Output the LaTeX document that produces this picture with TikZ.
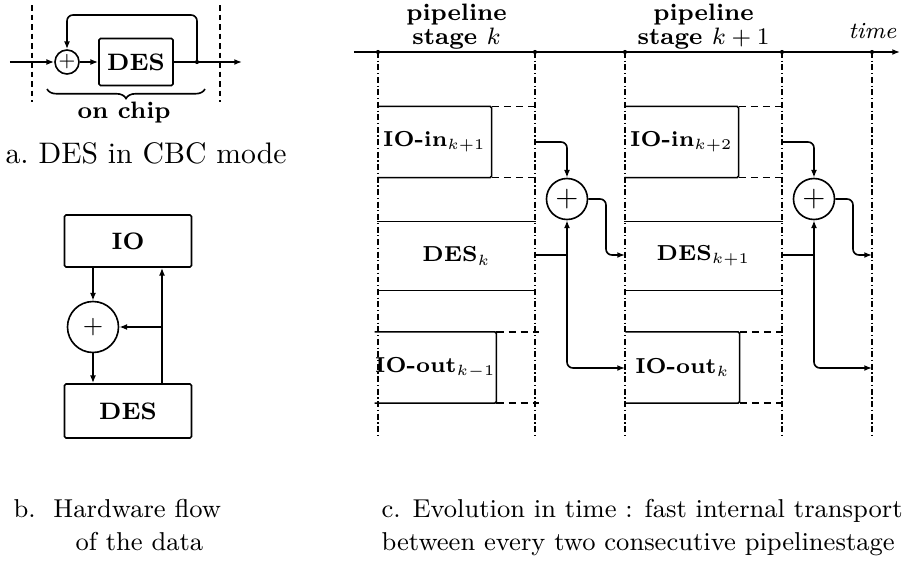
\documentclass[tikz,border=0pt]{standalone}
\usepackage{amsmath}
\usepackage{tikz}
\usetikzlibrary{arrows.meta,decorations.pathreplacing}
\newcommand{\px}{0.3367pt}
\newcommand{\stagesub}[1]{$_{\scriptscriptstyle #1}$}

\begin{document}
\begin{tikzpicture}[
  x=\px, y=-\px,
  wire/.style={line width=0.55pt},
  flow/.style={wire, rounded corners=2pt, -{Latex[length=2.6pt, width=2pt]}},
  unit box/.style={inner sep=0pt, font=\fontsize{8}{9.6}\selectfont\bfseries},
  cbc box/.style={unit box, draw, wire, rounded corners=0.5pt},
  io box/.style={unit box, minimum width={113*\px}, minimum height={70*\px},
                 font=\fontsize{7.3}{9}\selectfont\bfseries},
  des box/.style={io box, minimum width={157*\px}, minimum height={68*\px}},
  xor/.style={circle, draw, wire, inner sep=0pt},
  box edge/.style={wire, rounded corners=0.5pt},
  box spill/.style={wire, dash pattern=on 2.5pt off 1.6pt},
  stage edge/.style={line width=0.35pt, dash pattern=on 2pt off 0.9pt on 0.4pt off 0.9pt},
  chip edge/.style={line width=0.4pt, dash pattern=on 2pt off 1.2pt},
  time axis/.style={line width=0.65pt, -{Latex[length=2.6pt, width=2pt]}},
  header/.style={align=center, inner sep=0pt, font=\fontsize{8}{7}\selectfont\bfseries},
  caption/.style={inner sep=0pt, anchor=base west, font=\fontsize{8.7}{11}\selectfont},
]
  \useasboundingbox (0,0) rectangle (905,562);

  % #1 name, #2 left edge, #3 IO-in text, #4 DES text, #5 IO-out text
  \newcommand{\pipestage}[5]{%
    \begin{scope}[shift={(#2,0)}]
      \draw[stage edge] (0,52) -- (0,435) (157,52) -- (157,435);
      \node[io box] (#1-in) at (56.5,142) {#3};
      \node[des box] (#1-des) at (78.5,256) {#4};
      \node[io box] (#1-out) at (57.5,367.5) {#5};
      \draw[box edge] (#1-in.north west) -- (#1-in.north east)
        -- (#1-in.south east) -- (#1-in.south west);
      \draw[box edge] (#1-out.north west) -- (#1-out.north east)
        -- (#1-out.south east) -- (#1-out.south west);
      \draw[box edge] (#1-des.north west) -- (#1-des.north east)
        (#1-des.south west) -- (#1-des.south east);
      \draw[box spill] (#1-in.north east) -- ++(44,0) (#1-in.south east) -- ++(44,0);
      \draw[box spill] (#1-out.north east) -- ++(43,0) (#1-out.south east) -- ++(43,0);

      % Transport to the next stage.
      \coordinate (#1-inport) at (157,142);
      \coordinate (#1-desport) at (157,255);
      \node[xor, minimum size={41*\px}, font=\fontsize{10}{10}\selectfont] (#1-xor) at (189,199) {+};
      \coordinate (#1-split) at (189,255);
      \coordinate (#1-bend) at (228,255);
      \coordinate (#1-nextdes) at (247,255);
      \coordinate (#1-nextout) at (247,368);
      \draw[flow] (#1-inport) -| (#1-xor.north);
      \draw[wire] (#1-desport) -- (#1-split);
      \draw[flow] (#1-split) -- (#1-xor.south);
      \draw[flow] (#1-split) |- (#1-nextout);
      \draw[flow] (#1-xor.east) -| (#1-bend) -- (#1-nextdes);
    \end{scope}%
  }

  % a. DES in CBC mode
  \draw[chip edge] (32,5) -- (32,102) (220,5) -- (220,102);
  \coordinate (a-in) at (10,62);
  \node[xor, minimum size={24*\px}, font=\fontsize{6.6}{7}\selectfont] (a-xor) at (67,62) {+};
  \node[cbc box, minimum width={74*\px}, minimum height={47*\px}] (a-des) at (136,62) {DES};
  \coordinate (a-tap) at (197,62);
  \coordinate (a-top) at (197,15);
  \coordinate (a-out) at (242,62);
  \draw[flow] (a-in) -- (a-xor);
  \draw[flow] (a-xor) -- (a-des);
  \draw[flow] (a-des) -- (a-out);
  \draw[flow] (a-tap) -- (a-top) -| (a-xor.north);
  \fill (a-tap) circle[radius=0.7pt];
  \draw[wire, decorate, decoration={brace, mirror, amplitude=3.2pt}] (47,89) -- (205,89);
  \node[unit box, anchor=base] (a-chip) at (124,118) {on chip};
  \node[inner sep=0pt, anchor=base west, font=\fontsize{10}{12}\selectfont] (cap-a) at (5,163) {a.\ DES in CBC mode};

  % b. Hardware flow
  \node[cbc box, minimum width={127*\px}, minimum height={52*\px}] (b-io) at (128,241) {IO};
  \node[xor, minimum size={51*\px}, font=\fontsize{8.6}{9}\selectfont] (b-xor) at (93,327) {+};
  \node[cbc box, minimum width={127*\px}, minimum height={54*\px}] (b-des) at (128,411) {DES};
  \coordinate (b-up) at (162,384);
  \coordinate (b-tee) at (162,327);
  \draw[flow] (b-io.south -| b-xor) -- (b-xor);
  \draw[flow] (b-xor) -- (b-xor |- b-des.north);
  \draw[flow] (b-up) -- (b-up |- b-io.south);
  \draw[flow] (b-tee) -- (b-xor);

  % c. Evolution in time
  \coordinate (axis-start) at (354,52);
  \coordinate (axis-end) at (900,52);
  \draw[time axis] (axis-start) -- (axis-end);
  \node[header, anchor=south] (hdr-k) at (456.5,50) {pipeline\\stage $k$};
  \node[header, anchor=south] (hdr-k1) at (703.5,50) {pipeline\\stage $k+1$};
  \node[inner sep=0pt, anchor=base east, font=\fontsize{7.8}{9}\selectfont\itshape] (time) at (897,38) {time};

  \pipestage{pk}{378}{IO-in\stagesub{k+1}}{DES\stagesub{k}}{IO-out\stagesub{k-1}}
  \pipestage{pn}{625}{IO-in\stagesub{k+2}}{DES\stagesub{k+1}}{IO-out\stagesub{k}}
  \draw[stage edge] (872,52) -- (872,435);
  \foreach \t in {378,535,625,782,872} {
    \fill (\t,52) circle[radius=0.7pt];
  }

  \node[caption] (cap-b1) at (13,517) {b.\ \ Hardware flow};
  \node[caption] (cap-b2) at (75,550) {of the data};
  \node[caption] (cap-c1) at (381,517) {c. Evolution in time : fast internal transport};
  \node[caption] (cap-c2) at (381,550) {between every two consecutive pipelinestage};
\end{tikzpicture}
\end{document}
